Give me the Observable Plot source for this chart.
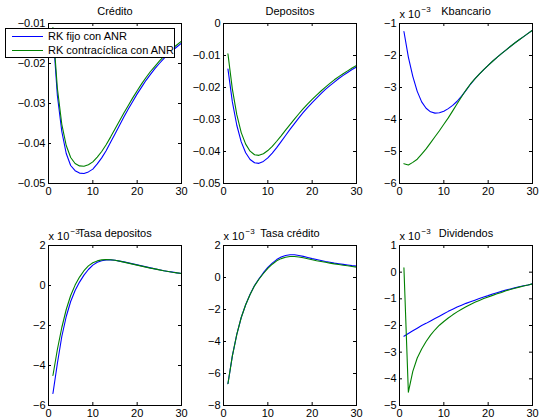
<!DOCTYPE html>
<html><head><meta charset="utf-8">
<script src="https://cdn.jsdelivr.net/npm/d3@7"></script>
<script src="https://cdn.jsdelivr.net/npm/@observablehq/plot@0.6"></script>
<style>
body{margin:0;background:#fff;}
#chart{position:relative;width:539px;height:420px;background:#fff;font-family:"Liberation Sans",Arial,Helvetica,sans-serif;overflow:hidden;}
#chart svg{position:absolute;}
.legend{position:absolute;left:5px;top:28px;width:170px;height:30px;box-sizing:border-box;border:1px solid #000;background:#fff;font-size:11px;z-index:10;}
.legend .sw{position:absolute;left:6px;width:31px;height:0;}
.legend .lb{position:absolute;left:42px;line-height:13px;white-space:nowrap;color:#000;}
</style></head><body><div id="chart"></div>
<script>
const periods = d3.range(1, 31);
const seriesNames = ["RK fijo con ANR", "RK contracíclica con ANR"];
const seriesColors = ["#0000ff", "#008000"];
const xTicks = [0, 10, 20, 30];

const creditoFijo = [-0.0120,-0.0280,-0.0370,-0.0425,-0.0455,-0.0468,-0.0474,-0.0475,-0.0471,-0.0464,-0.0451,-0.0436,-0.0418,-0.0397,-0.0376,-0.0355,-0.0334,-0.0314,-0.0295,-0.0276,-0.0259,-0.0242,-0.0227,-0.0213,-0.0200,-0.0188,-0.0177,-0.0167,-0.0158,-0.0149];
const creditoContra = [-0.0110,-0.0262,-0.0352,-0.0405,-0.0435,-0.0450,-0.0456,-0.0457,-0.0453,-0.0446,-0.0434,-0.0420,-0.0403,-0.0384,-0.0364,-0.0344,-0.0324,-0.0305,-0.0286,-0.0268,-0.0251,-0.0235,-0.0220,-0.0207,-0.0194,-0.0182,-0.0172,-0.0162,-0.0153,-0.0144];
const depositosFijo = [-0.0142,-0.0245,-0.0318,-0.0370,-0.0404,-0.0425,-0.0435,-0.0437,-0.0431,-0.0420,-0.0405,-0.0388,-0.0369,-0.0350,-0.0331,-0.0313,-0.0295,-0.0278,-0.0262,-0.0247,-0.0233,-0.0219,-0.0206,-0.0194,-0.0183,-0.0172,-0.0162,-0.0153,-0.0144,-0.0136];
const depositosContra = [-0.0095,-0.0205,-0.0285,-0.0341,-0.0377,-0.0399,-0.0410,-0.0412,-0.0407,-0.0397,-0.0384,-0.0368,-0.0351,-0.0333,-0.0316,-0.0299,-0.0282,-0.0266,-0.0251,-0.0237,-0.0224,-0.0211,-0.0199,-0.0187,-0.0176,-0.0166,-0.0157,-0.0148,-0.0139,-0.0131];
// values below in units of 10^-3
const kbancarioFijo = [-1.25,-2.05,-2.65,-3.12,-3.45,-3.65,-3.76,-3.80,-3.79,-3.74,-3.66,-3.56,-3.43,-3.27,-3.09,-2.90,-2.73,-2.58,-2.44,-2.31,-2.18,-2.06,-1.94,-1.83,-1.72,-1.61,-1.51,-1.41,-1.31,-1.21];
const kbancarioContra = [-5.38,-5.42,-5.34,-5.24,-5.08,-4.92,-4.73,-4.54,-4.35,-4.15,-3.95,-3.73,-3.51,-3.29,-3.08,-2.89,-2.73,-2.58,-2.44,-2.31,-2.18,-2.06,-1.94,-1.83,-1.72,-1.61,-1.51,-1.41,-1.31,-1.21];
const tasaDepFijo = [-5.40,-3.90,-2.55,-1.55,-0.80,-0.25,0.17,0.52,0.80,1.02,1.16,1.24,1.28,1.28,1.26,1.22,1.18,1.13,1.08,1.03,0.98,0.93,0.88,0.83,0.79,0.74,0.70,0.67,0.63,0.60];
const tasaDepContra = [-4.50,-3.20,-2.10,-1.20,-0.50,0.02,0.42,0.74,0.98,1.14,1.23,1.28,1.30,1.29,1.26,1.22,1.17,1.12,1.07,1.02,0.97,0.92,0.87,0.83,0.78,0.74,0.70,0.66,0.63,0.60];
const tasaCredFijo = [-6.64,-4.90,-3.55,-2.50,-1.70,-1.05,-0.50,-0.08,0.30,0.63,0.90,1.12,1.28,1.38,1.42,1.42,1.38,1.32,1.25,1.18,1.12,1.06,1.00,0.95,0.90,0.86,0.82,0.78,0.74,0.71];
const tasaCredContra = [-6.64,-4.90,-3.55,-2.50,-1.70,-1.06,-0.52,-0.11,0.25,0.57,0.83,1.04,1.18,1.27,1.31,1.31,1.28,1.23,1.17,1.11,1.05,1.00,0.95,0.90,0.85,0.81,0.77,0.73,0.69,0.65];
const dividendosFijo = [-2.40,-2.30,-2.20,-2.10,-2.00,-1.92,-1.83,-1.74,-1.65,-1.56,-1.47,-1.39,-1.31,-1.24,-1.17,-1.11,-1.05,-0.99,-0.93,-0.88,-0.82,-0.77,-0.72,-0.67,-0.63,-0.59,-0.55,-0.51,-0.48,-0.44];
const dividendosContra = [0.16,-4.50,-3.72,-3.22,-2.88,-2.60,-2.36,-2.16,-1.99,-1.85,-1.72,-1.60,-1.49,-1.39,-1.30,-1.21,-1.13,-1.06,-0.99,-0.93,-0.87,-0.81,-0.76,-0.70,-0.65,-0.60,-0.56,-0.52,-0.48,-0.44];

const titles = ["Crédito", "Depositos", "Kbancario", "Tasa depositos", "Tasa crédito", "Dividendos"];
const yDomains = [[-0.05, -0.01], [-0.05, 0], [-6, -1], [-6, 2], [-8, 2], [-5, 1]];
const yTicksList = [
  [-0.05, -0.04, -0.03, -0.02, -0.01],
  [-0.05, -0.04, -0.03, -0.02, -0.01, 0],
  [-6, -5, -4, -3, -2, -1],
  [-6, -4, -2, 0, 2],
  [-8, -6, -4, -2, 0, 2],
  [-5, -4, -3, -2, -1, 0, 1]
];
const scaled = [false, false, true, true, true, true];
const fijoList = [creditoFijo, depositosFijo, kbancarioFijo, tasaDepFijo, tasaCredFijo, dividendosFijo];
const contraList = [creditoContra, depositosContra, kbancarioContra, tasaDepContra, tasaCredContra, dividendosContra];

const colLefts = [48, 223, 399];
const rowTops = [23, 245];
const W = 133, H = 160, ML = 48, MR = 10, MT = 24, MB = 18;
const fmt2 = d3.format(".2f");
const chart = document.getElementById("chart");

for (let k = 0; k < 6; k++) {
  const data = [];
  periods.forEach((t, i) => {
    data.push({t, v: fijoList[k][i], s: seriesNames[0]});
  });
  periods.forEach((t, i) => {
    data.push({t, v: contraList[k][i], s: seriesNames[1]});
  });
  const yTicks = yTicksList[k];
  const tf = scaled[k] ? (d => d3.format("d")(d)) : (d => d === 0 ? "0" : fmt2(d));
  const marks = [
    Plot.line(data, {x: "t", y: "v", z: "s", stroke: "s", strokeWidth: 1.1}),
    Plot.frame({stroke: "black", strokeWidth: 1}),
    Plot.tickX(xTicks, {x: d => d, insetTop: H - 3, stroke: "black"}),
    Plot.tickX(xTicks, {x: d => d, insetBottom: H - 3, stroke: "black"}),
    Plot.tickY(yTicks, {y: d => d, insetRight: W - 3, stroke: "black"}),
    Plot.tickY(yTicks, {y: d => d, insetLeft: W - 3, stroke: "black"}),
    Plot.axisX(xTicks, {tickSize: 0, tickPadding: 4, label: null, tickFormat: d => String(d)}),
    Plot.axisY(yTicks, {tickSize: 0, tickPadding: 3, label: null, tickFormat: tf}),
    Plot.text([titles[k]], {frameAnchor: "top", dy: -12, lineAnchor: "middle", fontSize: 11, fill: "black"})
  ];
  if (scaled[k]) {
    marks.push(Plot.text(["x 10"], {frameAnchor: "top-left", textAnchor: "start", lineAnchor: "middle", dy: -9, fontSize: 11, fill: "black"}));
    marks.push(Plot.text(["\u22123"], {frameAnchor: "top-left", textAnchor: "start", lineAnchor: "middle", dx: 22, dy: -14, fontSize: 8, fill: "black"}));
  }
  const p = Plot.plot({
    width: ML + W + MR,
    height: MT + H + MB,
    marginLeft: ML, marginRight: MR, marginTop: MT, marginBottom: MB,
    x: {domain: [0, 30]},
    y: {domain: yDomains[k]},
    color: {domain: seriesNames, range: seriesColors},
    style: {background: "transparent", overflow: "visible", fontFamily: '"Liberation Sans", Arial, sans-serif', fontSize: "11px", color: "black"},
    marks
  });
  const col = k % 3, row = Math.floor(k / 3);
  p.style.left = (colLefts[col] - ML) + "px";
  p.style.top = (rowTops[row] - MT) + "px";
  chart.appendChild(p);
}

// legend
const legend = document.createElement("div");
legend.className = "legend";
seriesNames.forEach((name, i) => {
  const cy = i === 0 ? 7 : 21;
  const sw = document.createElement("div");
  sw.className = "sw";
  sw.style.top = cy + "px";
  sw.style.borderTop = "1px solid " + seriesColors[i];
  legend.appendChild(sw);
  const lb = document.createElement("div");
  lb.className = "lb";
  lb.style.top = (cy - 6) + "px";
  lb.textContent = name;
  legend.appendChild(lb);
});
chart.appendChild(legend);
</script>
</body></html>
